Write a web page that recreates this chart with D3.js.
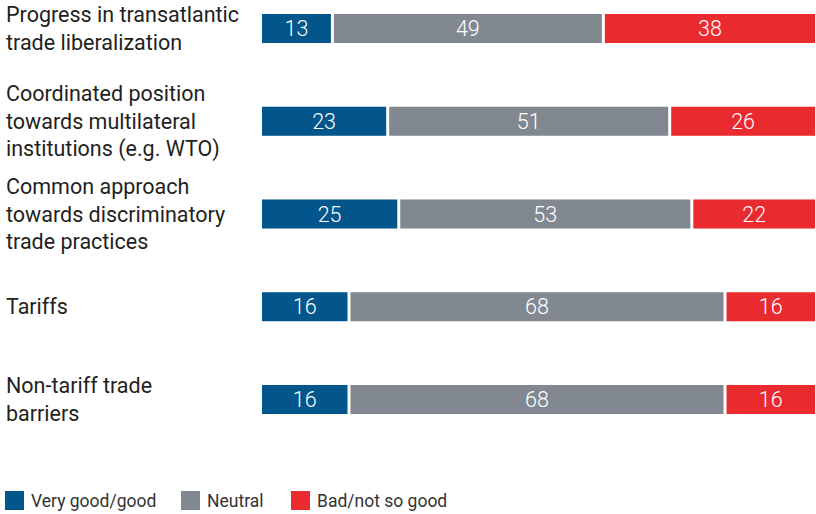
<!DOCTYPE html>
<html>
<head>
<meta charset="utf-8">
<script src="https://cdn.jsdelivr.net/npm/d3@7"></script>
<style>
  html, body { margin: 0; padding: 0; background: #fff; }
  svg { display: block; }
</style>
</head>
<body>
<svg id="chart" width="816" height="514"></svg>
<script>
// Survey items, each label split into its display lines
const categories = [
  ["Progress in transatlantic", "trade liberalization"],
  ["Coordinated position", "towards multilateral", "institutions (e.g. WTO)"],
  ["Common approach", "towards discriminatory", "trade practices"],
  ["Tariffs"],
  ["Non-tariff trade", "barriers"]
];
const seriesNames = ["Very good/good", "Neutral", "Bad/not so good"];
const veryGood = [13, 23, 25, 16, 16];
const neutral  = [49, 51, 53, 68, 68];
const bad      = [38, 26, 22, 16, 16];
const colors   = ["#02568b", "#81888f", "#e92a2e"];

const svg = d3.select("#chart");

const rows = categories.map((c, i) => ({
  key: i, label: c,
  values: [veryGood[i], neutral[i], bad[i]]
}));

const x = d3.scaleLinear().domain([0, 100]).range([262, 815]);
const y = d3.scaleBand().domain(d3.range(categories.length)).range([14, 414]).paddingInner(0.687).paddingOuter(0);
const barH = y.bandwidth();

const labelFont = "Roboto, 'Liberation Sans', sans-serif";

// category labels, vertically centred on the bar
const lineH = 27.5;
rows.forEach(r => {
  const cy = y(r.key) + barH / 2;
  const n = r.label.length;
  const t = svg.append("text")
    .attr("x", 6)
    .attr("font-family", labelFont)
    .attr("font-size", 21.5)
    .attr("fill", "#231f20");
  r.label.forEach((line, j) => {
    t.append("tspan")
      .attr("x", 6)
      .attr("y", cy + (j - (n - 1) / 2) * lineH + 7.5)
      .text(line);
  });
});

// stacked segments, separated by a thin white gap
const gap = 3;
rows.forEach(r => {
  let acc = 0;
  const g = svg.append("g");
  r.values.forEach((v, k) => {
    const x0 = x(acc), x1 = x(acc + v);
    acc += v;
    const w = k < r.values.length - 1 ? x1 - x0 - gap : x1 - x0;
    g.append("rect")
      .attr("x", x0)
      .attr("y", y(r.key))
      .attr("width", w)
      .attr("height", barH)
      .attr("fill", colors[k]);
    g.append("text")
      .attr("x", x0 + w / 2)
      .attr("y", y(r.key) + barH / 2 + 7.5)
      .attr("text-anchor", "middle")
      .attr("font-family", labelFont)
      .attr("font-weight", 300)
      .attr("font-size", 21.5)
      .attr("fill", "#fff")
      .text(v);
  });
});

// legend
const legendX = [5, 181, 291];
const legend = svg.append("g");
seriesNames.forEach((name, k) => {
  legend.append("rect")
    .attr("x", legendX[k]).attr("y", 491)
    .attr("width", 19).attr("height", 19)
    .attr("fill", colors[k]);
  legend.append("text")
    .attr("x", legendX[k] + 26).attr("y", 507)
    .attr("font-family", labelFont)
    .attr("font-size", 17.5)
    .attr("fill", "#333")
    .text(name);
});
</script>
</body>
</html>
